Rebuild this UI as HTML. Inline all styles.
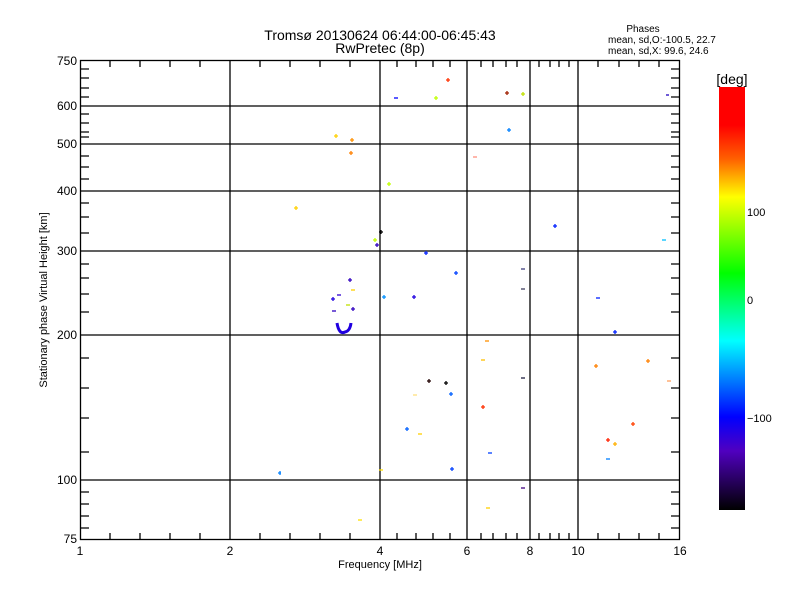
<!DOCTYPE html>
<html><head><meta charset="utf-8"><style>
html,body{margin:0;padding:0;background:#fff;}
svg text{font-family:"Liberation Sans",sans-serif;fill:#000;}
</style></head><body>
<svg width="800" height="600" xmlns="http://www.w3.org/2000/svg">
<defs>
<linearGradient id="cb" x1="0" y1="0" x2="0" y2="1">
<stop offset="0" stop-color="#ff0000"/>
<stop offset="0.09" stop-color="#ff0000"/>
<stop offset="0.17" stop-color="#ff6000"/>
<stop offset="0.26" stop-color="#ffff00"/>
<stop offset="0.44" stop-color="#00ff00"/>
<stop offset="0.60" stop-color="#00ffff"/>
<stop offset="0.78" stop-color="#0000ff"/>
<stop offset="0.86" stop-color="#5000c0"/>
<stop offset="1" stop-color="#000000"/>
</linearGradient>
</defs>
<text x="380" y="40" font-size="14" text-anchor="middle">Tromsø 20130624 06:44:00-06:45:43</text>
<text x="380" y="53" font-size="14" text-anchor="middle">RwPretec (8p)</text>
<text x="643" y="32" font-size="10" text-anchor="middle">Phases</text>
<text x="608" y="43" font-size="10">mean, sd,O:-100.5, 22.7</text>
<text x="608" y="54" font-size="10">mean, sd,X:  99.6, 24.6</text>
<g stroke="#000" stroke-width="1.3" fill="none">
<rect x="80.5" y="60.5" width="599" height="479"/>
<path d="M80 106H680M80 144H680M80 191H680M80 251H680M80 335H680M80 480H680"/>
<path d="M230 60V540M380 60V540M467 60V540M530 60V540M578 60V540"/>
<path d="M110 540v-7M140 540v-7M170 540v-7M200 540v-7M260 540v-7M290 540v-7M320 540v-7M350 540v-7M397 540v-7M416 540v-7M433 540v-7M450 540v-7M481 540v-7M493 540v-7M506 540v-7M517 540v-7M539 540v-7M550 540v-7M559 540v-7M569 540v-7M598 540v-7M619 540v-7M639 540v-7M659 540v-7"/>
<path d="M110 60v7M140 60v7M170 60v7M200 60v7M260 60v7M290 60v7M320 60v7M350 60v7M397 60v7M416 60v7M433 60v7M450 60v7M481 60v7M493 60v7M506 60v7M517 60v7M539 60v7M550 60v7M559 60v7M569 60v7M598 60v7M619 60v7M639 60v7M659 60v7"/>
<path d="M80 69h9M80 78h9M80 88h9M80 97h9M80 114h9M80 123h9M80 132h9M80 137h9M80 156h9M80 167h9M80 179h9M80 203h9M80 217h9M80 233h9M80 264h9M80 278h9M80 294h9M80 312h9M80 358h9M80 388h9M80 418h9M80 452h9M80 492h9M80 504h9M80 516h9M80 528h9"/>
<path d="M680 69h-9M680 78h-9M680 88h-9M680 97h-9M680 114h-9M680 123h-9M680 132h-9M680 137h-9M680 156h-9M680 167h-9M680 179h-9M680 203h-9M680 217h-9M680 233h-9M680 264h-9M680 278h-9M680 294h-9M680 312h-9M680 358h-9M680 388h-9M680 418h-9M680 452h-9M680 492h-9M680 504h-9M680 516h-9M680 528h-9"/>
</g>
<g font-size="12" text-anchor="end">
<text x="77" y="65">750</text><text x="77" y="110">600</text><text x="77" y="148">500</text>
<text x="77" y="195">400</text><text x="77" y="255">300</text><text x="77" y="339">200</text>
<text x="77" y="484">100</text><text x="77" y="543">75</text>
</g>
<g font-size="12" text-anchor="middle">
<text x="80" y="555">1</text><text x="230" y="555">2</text><text x="380" y="555">4</text>
<text x="467" y="555">6</text><text x="530" y="555">8</text><text x="578" y="555">10</text><text x="680" y="555">16</text>
<text x="380" y="568" font-size="11">Frequency [MHz]</text>
</g>
<text transform="translate(47,300) rotate(-90)" font-size="11" text-anchor="middle">Stationary phase Virtual Height [km]</text>
<rect x="719" y="87" width="26" height="423" fill="url(#cb)"/>
<text x="732" y="84" font-size="14" text-anchor="middle">[deg]</text>
<g font-size="11"><text x="747" y="216">100</text><text x="747" y="304">0</text><text x="747" y="422">−100</text></g>
<g stroke-width="1.3" fill="none">
<path d="M446 80h4M448 78v4" stroke="#ff3000"/>
<path d="M394 98h4" stroke="#0000ff"/>
<path d="M434 98h4M436 96v4" stroke="#c0ff00"/>
<path d="M505 93h4M507 91v4" stroke="#a02000"/>
<path d="M521 94h4M523 92v4" stroke="#c0e000"/>
<path d="M666 95h3" stroke="#2000c0"/>
<path d="M507 130h4M509 128v4" stroke="#0080ff"/>
<path d="M334 136h4M336 134v4" stroke="#ffd000"/>
<path d="M350 140h4M352 138v4" stroke="#ff9000"/>
<path d="M349 153h4M351 151v4" stroke="#ff8000"/>
<path d="M473 157h4" stroke="#ff9080"/>
<path d="M387 184h4M389 182v4" stroke="#c0ff00"/>
<path d="M294 208h4M296 206v4" stroke="#ffd000"/>
<path d="M379 232h4M381 230v4" stroke="#000000"/>
<path d="M373 240h4M375 238v4" stroke="#c0ff00"/>
<path d="M375 245h4M377 243v4" stroke="#3000c0"/>
<path d="M553 226h4M555 224v4" stroke="#0020ff"/>
<path d="M662 240h4" stroke="#00c0ff"/>
<path d="M424 253h4M426 251v4" stroke="#0020ff"/>
<path d="M454 273h4M456 271v4" stroke="#0040ff"/>
<path d="M521 269h4" stroke="#404080"/>
<path d="M348 280h4M350 278v4" stroke="#3000c0"/>
<path d="M351 290h4" stroke="#ffd000"/>
<path d="M337 295h4" stroke="#3000d0"/>
<path d="M331 299h4M333 297v4" stroke="#2000e0"/>
<path d="M521 289h4" stroke="#404060"/>
<path d="M382 297h4M384 295v4" stroke="#0090ff"/>
<path d="M412 297h4M414 295v4" stroke="#2000e0"/>
<path d="M596 298h4" stroke="#0020ff"/>
<path d="M346 305h4" stroke="#c0e000"/>
<path d="M351 309h4M353 307v4" stroke="#3000c0"/>
<path d="M332 311h4" stroke="#3000c0"/>
<path d="M613 332h4M615 330v4" stroke="#0020ff"/>
<path d="M337 323q2 12 8 9q5 -1 6 -9" stroke="#2000e0" stroke-width="3"/>
<path d="M485 341h4" stroke="#ff9000"/>
<path d="M481 360h4" stroke="#ffc000"/>
<path d="M646 361h4M648 359v4" stroke="#ff8000"/>
<path d="M594 366h4M596 364v4" stroke="#ff8000"/>
<path d="M667 381h4" stroke="#ffa060"/>
<path d="M521 378h4" stroke="#202040"/>
<path d="M427 381h4M429 379v4" stroke="#200000"/>
<path d="M444 383h4M446 381v4" stroke="#000000"/>
<path d="M413 395h4" stroke="#ffe080"/>
<path d="M449 394h4M451 392v4" stroke="#0060ff"/>
<path d="M481 407h4M483 405v4" stroke="#ff3000"/>
<path d="M631 424h4M633 422v4" stroke="#ff4000"/>
<path d="M405 429h4M407 427v4" stroke="#0060ff"/>
<path d="M418 434h4" stroke="#ffd000"/>
<path d="M606 440h4M608 438v4" stroke="#ff2000"/>
<path d="M613 444h4M615 442v4" stroke="#ffb000"/>
<path d="M488 453h4" stroke="#0040ff"/>
<path d="M606 459h4" stroke="#0080ff"/>
<path d="M450 469h4M452 467v4" stroke="#0040ff"/>
<path d="M379 470h4" stroke="#ffe000"/>
<path d="M278 473h3M280 471v4" stroke="#0080ff"/>
<path d="M521 488h4" stroke="#400080"/>
<path d="M486 508h4" stroke="#ffd000"/>
<path d="M358 520h4" stroke="#ffe000"/>
</g>
</svg>
</body></html>
